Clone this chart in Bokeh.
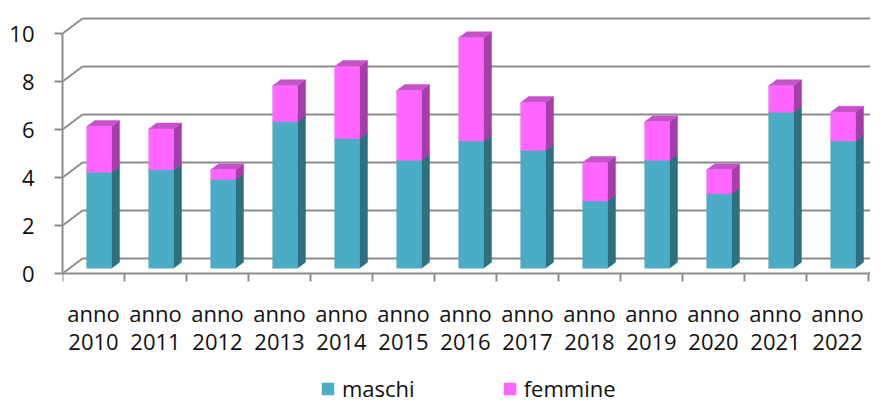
from bokeh.plotting import figure
from bokeh.models import Range1d, LinearAxis, FixedTicker, Legend, LegendItem
from bokeh.embed import file_html
from bokeh.resources import INLINE

# ---- data ----
years = ["2010", "2011", "2012", "2013", "2014", "2015", "2016",
         "2017", "2018", "2019", "2020", "2021", "2022"]
maschi = [4.0, 4.1, 3.7, 6.1, 5.4, 4.5, 5.3, 4.9, 2.8, 4.5, 3.1, 6.5, 5.3]
femmine = [1.9, 1.7, 0.4, 1.5, 3.0, 2.9, 4.3, 2.0, 1.6, 1.6, 1.0, 1.1, 1.2]
y_ticks = [0, 2, 4, 6, 8, 10]
series_names = ["maschi", "femmine"]

# ---- style ----
FONT = "Open Sans"
TXT = "#111111"
GRID = "#8c8c8c"
M_FRONT, M_SIDE, M_TOP = "#4BACC6", "#2F6F7E", "#3C8EA4"
F_FRONT, F_SIDE, F_TOP = "#FF66FF", "#A33FA6", "#C552C8"

PX_X, PX_Y = 62.0, 24.0            # pixels per data unit
BX, BY = 20 / PX_X, 15 / PX_Y      # depth of the back wall
W, OFX, OFY = 0.40, 0.09, 0.22     # bar width / bar front offset
DX, DY = 8 / PX_X, 6 / PX_Y        # bar depth

WIDTH, HEIGHT = 870, 404
LEFT, TOP, ZERO = 62, 14, 273      # frame left, frame top, pixel row of y=0
n = len(years)
p = figure(width=WIDTH, height=HEIGHT,
           x_range=Range1d(0, (WIDTH - LEFT) / PX_X),
           y_range=Range1d(-(HEIGHT - ZERO) / PX_Y, (ZERO - TOP) / PX_Y),
           output_backend="svg", toolbar_location=None,
           x_axis_type=None, y_axis_type=None,
           min_border_left=LEFT, min_border_right=0,
           min_border_top=TOP, min_border_bottom=0)
p.outline_line_color = None
p.background_fill_color = "white"
p.border_fill_color = "white"

# ---- walls / gridlines ----
p.segment(x0=[BX] * len(y_ticks), y0=[t + BY for t in y_ticks],
          x1=[n + BX + 1] * len(y_ticks), y1=[t + BY for t in y_ticks],
          line_color=GRID, line_width=2)
p.segment(x0=[0] * len(y_ticks), y0=y_ticks,
          x1=[BX] * len(y_ticks), y1=[t + BY for t in y_ticks],
          line_color=GRID, line_width=2)
p.segment(x0=[n], y0=[0], x1=[n + BX], y1=[BY], line_color=GRID, line_width=2)

# ---- bars ----
left = [i + 0.5 - W / 2 + OFX for i in range(n)]
right = [l + W for l in left]
m_top = [m + OFY for m in maschi]
f_top = [m + f + OFY for m, f in zip(maschi, femmine)]
base = [OFY] * n

def side(bottoms, tops):
    xs = [[r, r + DX, r + DX, r] for r in right]
    ys = [[b, b + DY, t + DY, t] for b, t in zip(bottoms, tops)]
    return xs, ys

def top(tops):
    xs = [[l, r, r + DX, l + DX] for l, r in zip(left, right)]
    ys = [[t, t, t + DY, t + DY] for t in tops]
    return xs, ys

xs, ys = side(base, m_top)
p.patches(xs, ys, fill_color=M_SIDE, line_color=M_SIDE, line_width=0.5)
xs, ys = top(m_top)
p.patches(xs, ys, fill_color=M_TOP, line_color=M_TOP, line_width=0.5)
mq = p.quad(left=left, right=right, bottom=base, top=m_top,
            fill_color=M_FRONT, line_color=M_FRONT, line_width=0.5)

xs, ys = side(m_top, f_top)
p.patches(xs, ys, fill_color=F_SIDE, line_color=F_SIDE, line_width=0.5)
xs, ys = top(f_top)
p.patches(xs, ys, fill_color=F_TOP, line_color=F_TOP, line_width=0.5)
fq = p.quad(left=left, right=right, bottom=m_top, top=f_top,
            fill_color=F_FRONT, line_color=F_FRONT, line_width=0.5)

# ---- axes ----
yax = LinearAxis(ticker=FixedTicker(ticks=y_ticks), bounds=(0, 10))
yax.axis_line_color = GRID
yax.axis_line_width = 2
yax.major_tick_line_color = GRID
yax.major_tick_line_width = 2
yax.major_tick_out = 8
yax.major_tick_in = 0
yax.minor_tick_line_color = None
yax.major_label_standoff = 20
yax.major_label_text_font = FONT
yax.major_label_text_font_size = "22px"
yax.major_label_text_color = TXT
p.add_layout(yax, "left")

centers = [i + 0.5 for i in range(n)]
xax = LinearAxis(ticker=FixedTicker(ticks=centers, minor_ticks=list(range(n + 1))),
                 bounds=(0, n), fixed_location=0)
xax.major_label_overrides = {c: "anno\n" + y for c, y in zip(centers, years)}
xax.axis_line_color = GRID
xax.axis_line_width = 2
xax.major_tick_line_color = None
xax.major_tick_out = 0
xax.major_tick_in = 0
xax.minor_tick_line_color = GRID
xax.minor_tick_line_width = 2
xax.minor_tick_out = 8
xax.minor_tick_in = 0
xax.major_label_standoff = 16
xax.major_label_text_font = FONT
xax.major_label_text_font_size = "22px"
xax.major_label_text_line_height = 0.95
xax.major_label_text_color = TXT
p.add_layout(xax, "below")

# ---- legend ----
legend = Legend(items=[LegendItem(label=series_names[0], renderers=[mq]),
                       LegendItem(label=series_names[1], renderers=[fq])],
                orientation="horizontal", location=(258, 1))
legend.glyph_width = 15
legend.glyph_height = 15
legend.label_standoff = 7
legend.spacing = 87
legend.padding = 0
legend.margin = 0
legend.border_line_color = None
legend.background_fill_alpha = 0
legend.label_text_font = FONT
legend.label_text_font_size = "22px"
legend.label_text_color = TXT
p.add_layout(legend, "center")

open("out.html", "w").write(file_html(p, INLINE))
